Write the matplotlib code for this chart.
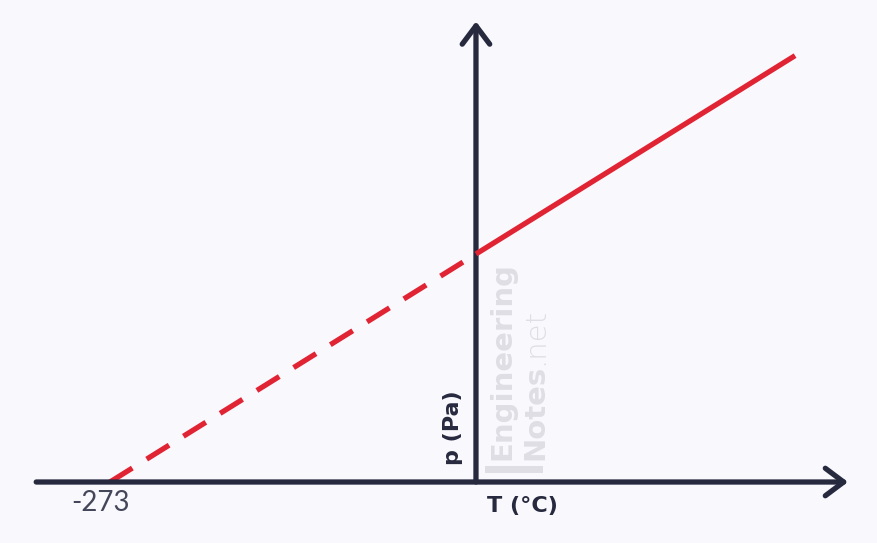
import matplotlib.pyplot as plt
from matplotlib.patches import Rectangle

# Pressure law: p proportional to absolute temperature
t_dashed = [-273, 0]
p_dashed = [0, 100]
t_solid = [0, 238]
p_solid = [100, 187]
zero_label = '-273'
x_label = 'T (°C)'
y_label = 'p (Pa)'

bg = '#f8f8fd'
axis_col = '#272a3f'
red = '#e12434'

fig = plt.figure(figsize=(8.77, 5.43), dpi=100, facecolor=bg)
ax = fig.add_axes([0, 0, 1, 1])
ax.set_facecolor(bg)
ax.set_xlim(-355.0, 299.1)
ax.set_ylim(-26.75, 211.4)
ax.axis('off')

# axes with open arrow heads
arrow = dict(arrowstyle='->,head_length=0.6,head_width=0.45', color=axis_col,
             lw=3.8, capstyle='round', joinstyle='round', shrinkA=0, shrinkB=0,
             mutation_scale=22)
ax.annotate('', xy=(277.5, 0), xytext=(-328, 0), arrowprops=arrow)
ax.annotate('', xy=(0, 202), xytext=(0, 0), arrowprops=arrow)

# the lines
ax.plot(t_dashed, p_dashed, color=red, lw=3.8, linestyle=(0, (5, 3.2)),
        dash_capstyle='butt', zorder=1)
ax.plot(t_solid, p_solid, color=red, lw=3.8, solid_capstyle='butt', zorder=3)

# labels
ax.text(-280, -9.4, zero_label, fontsize=20, family='Lato', fontweight='normal',
        color='#44475a', ha='center', va='center')
ax.text(35, -10.4, x_label, fontsize=16, family='DejaVu Sans', fontweight='bold',
        color=axis_col, ha='center', va='center')
ax.text(-17.5, 23.7, y_label, fontsize=16, family='DejaVu Sans', fontweight='bold',
        color=axis_col, ha='center', va='center', rotation=90)

# watermark
wm = '#dedee4'
ax.add_patch(Rectangle((6.7, 3.9), 43.3, 3.0, color=wm, lw=0, zorder=0))
ax.text(25.4, 9.6, 'Engineering', fontsize=21, family='DejaVu Sans', fontweight='bold',
        color=wm, rotation=90, rotation_mode='anchor', ha='left', va='baseline', zorder=0)
t1 = ax.text(50.0, 9.6, 'Notes', fontsize=21, family='DejaVu Sans', fontweight='bold',
             color=wm, rotation=90, rotation_mode='anchor', ha='left', va='baseline', zorder=0)
ax.annotate('.net', xy=(50.0, 1.0), xycoords=('data', t1), fontsize=21,
            family='DejaVu Sans', fontweight='light', color=wm, rotation=90,
            rotation_mode='anchor', ha='left', va='baseline', zorder=0)

plt.savefig('out.png', dpi=100, facecolor=bg)
